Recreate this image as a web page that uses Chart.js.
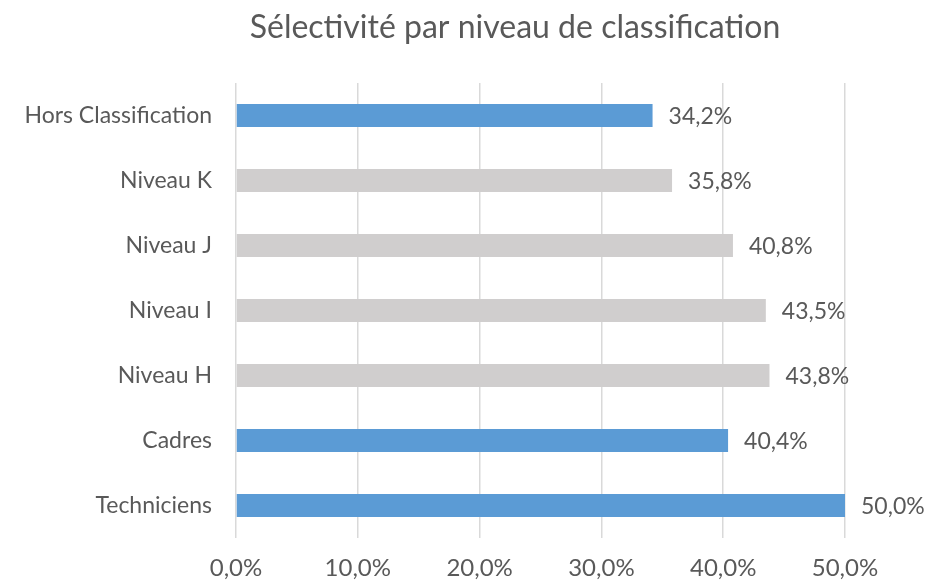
<!DOCTYPE html>
<html>
<head>
<meta charset="utf-8">
<script src="https://cdn.jsdelivr.net/npm/chart.js@4"></script>
<style>
  html, body { margin: 0; padding: 0; background: #fff; }
  #wrap { width: 930px; height: 580px; }
</style>
</head>
<body>
<div id="wrap"><canvas id="chart" width="930" height="580"></canvas></div>
<script>
// data
const categories = ['Hors Classification', 'Niveau K', 'Niveau J', 'Niveau I', 'Niveau H', 'Cadres', 'Techniciens'];
const values = [34.2, 35.8, 40.8, 43.5, 43.8, 40.4, 50.0];
const barColors = ['#5B9BD5', '#D0CECE', '#D0CECE', '#D0CECE', '#D0CECE', '#5B9BD5', '#5B9BD5'];
const chartTitle = 'Sélectivité par niveau de classification';

const FONT = 'Lato, "Open Sans", sans-serif';
const TEXT = '#595959';

function pct(v) {
  return v.toFixed(1).replace('.', ',') + '%';
}

// value labels to the right of each bar + title (centred like the original, not on the canvas)
const extras = {
  id: 'extras',
  afterDatasetsDraw(chart) {
    const ctx = chart.ctx;
    const meta = chart.getDatasetMeta(0);
    ctx.save();
    ctx.font = '23px ' + FONT;
    ctx.fillStyle = TEXT;
    ctx.textAlign = 'left';
    ctx.textBaseline = 'middle';
    meta.data.forEach((bar, i) => {
      ctx.fillText(pct(values[i]), bar.x + 16, bar.y + 1);
    });

    ctx.font = '32px ' + FONT;
    ctx.textAlign = 'center';
    ctx.fillText(chartTitle, 515, 28);
    ctx.restore();
  }
};

new Chart(document.getElementById('chart').getContext('2d'), {
  type: 'bar',
  data: {
    labels: categories,
    datasets: [{
      data: values,
      backgroundColor: barColors,
      borderWidth: 0,
      barPercentage: 0.354,
      categoryPercentage: 1
    }]
  },
  plugins: [extras],
  options: {
    indexAxis: 'y',
    responsive: false,
    animation: false,
    layout: { padding: { left: 0, right: 85, top: 83, bottom: 0 } },
    plugins: {
      legend: { display: false },
      tooltip: { enabled: false }
    },
    scales: {
      x: {
        min: 0,
        max: 50,
        ticks: {
          stepSize: 10,
          color: TEXT,
          font: { family: FONT, size: 24 },
          padding: 16,
          callback: v => pct(v)
        },
        grid: { color: '#D9D9D9', lineWidth: 1.5, drawTicks: false },
        border: { display: false },
        afterFit(scale) { scale.height = 42; }
      },
      y: {
        ticks: {
          color: TEXT,
          font: { family: FONT, size: 23 },
          padding: 24
        },
        grid: { display: false, drawTicks: false },
        border: { display: false },
        afterFit(scale) { scale.width = 236; }
      }
    }
  }
});
</script>
</body>
</html>
